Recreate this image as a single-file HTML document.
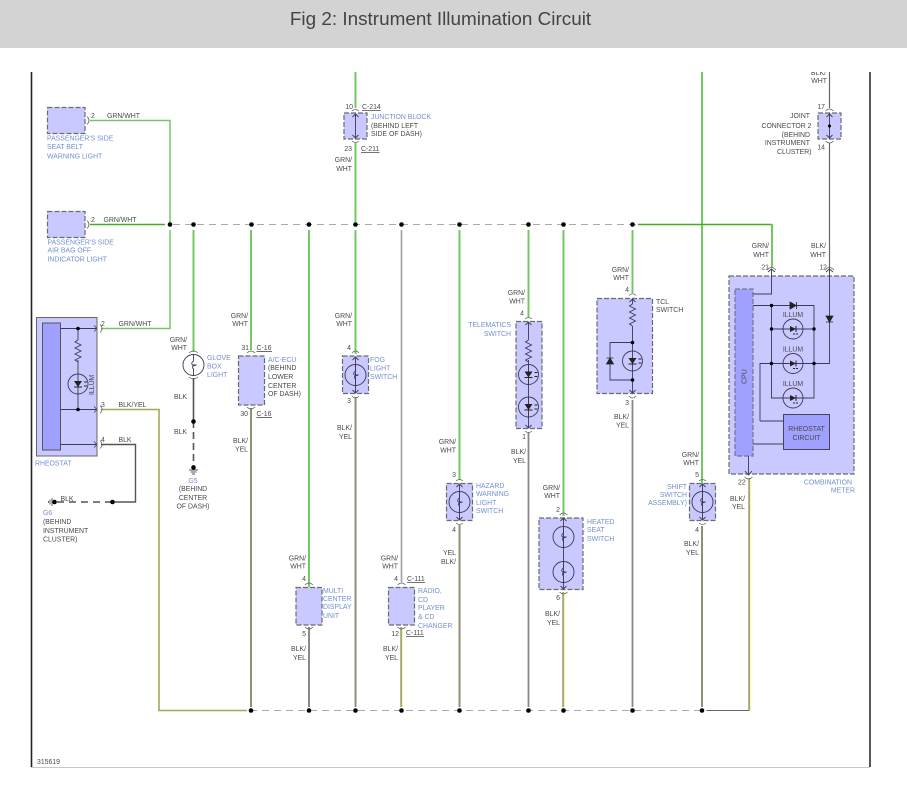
<!DOCTYPE html>
<html><head><meta charset="utf-8"><style>
html,body{margin:0;padding:0;background:#fff}
svg{display:block}
text{font-family:"Liberation Sans",sans-serif;font-size:6.9px;fill:#4a4a4a}
.b{fill:#7390cc}
.n{fill:#4a4a4a}
.g{stroke:#74c864;stroke-width:2;fill:none}
.gd{stroke:#3cb01e;stroke-width:1.4;fill:none}
.k{stroke:#555;stroke-width:1.3;fill:none}
.o{stroke:#8f9070;stroke-width:2;fill:none}
.d{stroke:#555;stroke-width:1.1;fill:none}
.i{stroke:#3a3a55;stroke-width:.9;fill:none}
.box{fill:#c9c9ff;stroke:#6a6a72;stroke-width:1.2;stroke-dasharray:5 2}
.dash{stroke:#aaa;stroke-width:1.1;stroke-dasharray:7 5;fill:none}
.u{stroke:#444;stroke-width:.8}
</style></head><body>
<svg width="907" height="797" viewBox="0 0 907 797" xmlns="http://www.w3.org/2000/svg">
<defs>
<g id="led"><circle r="10" class="i"/><path d="M0-10V10" class="i"/><path d="M-4-3H4L0 3Z" fill="#222"/><path d="M-4 3H4M6-2h3M6 2h3" stroke="#222" stroke-width="1"/></g>
<g id="led2"><circle r="10" class="i"/><path d="M-3-3L3 0-3 3Z" fill="#222"/><path d="M3-3V3M0 5h2M3 5h2" stroke="#222" stroke-width="1"/></g>
<g id="bulb"><circle r="10.500" class="i"/><path d="M0-10.500V-4Q-3-2-1 0H3Q-3 1 0 4V10.500" class="i"/></g>
<g id="res"><path d="M0 0l-3 2 6 3-6 3 6 3-6 3 6 3-6 3 3 2" class="i"/></g>
<g id="rt"><path d="M1-4Q5 0 1 4" stroke="#666" stroke-width=".8" fill="none"/><path d="M-5-3L-2 0-5 3" stroke="#444" stroke-width=".8" fill="none"/></g>
<path id="au" d="M-3 3L0 0 3 3" class="i"/>
<path id="ad" d="M-3-3L0 0 3-3" class="i"/>
</defs>
<rect width="907" height="797" fill="#fff"/>
<rect width="907" height="48" fill="#d3d3d3"/>
<text x="440.500" y="25" text-anchor="middle" style="font-size:18.900px;fill:#444">Fig 2: Instrument Illumination Circuit</text>

<!-- frame -->
<path d="M31.500 72V767" stroke="#222" stroke-width="1.600"/>
<path d="M870 72V767" stroke="#444" stroke-width="1.800"/>
<path d="M31 767.500H870" stroke="#c8c8c8" stroke-width="1"/>
<text x="37" y="764">315619</text>

<!-- buses -->
<path d="M173 224.500H772" class="dash"/>
<path d="M250 710.500H750" class="dash"/>

<!-- wires green -->
<path d="M90 120.500H170V224" class="g" style="stroke-width:1.500"/>
<path d="M90 224.500H165" class="gd"/>
<path d="M170 230V328.500H101" class="g" style="stroke-width:1.500"/>
<path d="M193.500 230V352" class="g"/>
<path d="M251 230V350" class="g"/>
<path d="M309 230V587" class="g"/>
<path d="M355.500 72V108M355.500 143V222M355.500 230V354" class="g"/>
<path d="M459.500 230V480" class="g"/>
<path d="M528.500 230V317" class="g"/>
<path d="M563.500 230V516" class="g"/>
<path d="M632.500 230V293" class="g"/>
<path d="M702 72V484" class="g"/>
<path d="M638 224.500H772" class="gd"/>
<path d="M772 224V268" class="g"/>

<!-- wires lower -->
<path d="M101 409.500H159V710.500H247" stroke="#a6a65a" stroke-width="1.600" fill="none"/>
<path d="M251 408V707" class="o"/>
<path d="M309 627V707" class="o" style="stroke:#8a8a80"/>
<path d="M355.500 397V707" class="o"/>
<path d="M401.500 230V582" stroke="#a0a0a0" stroke-width="1.600"/>
<path d="M401 627V707" stroke="#666" stroke-width="1"/><path d="M402 627V707" stroke="#eded50" stroke-width="1"/>
<path d="M459.500 525V707" class="o"/>
<path d="M528.500 432V707" stroke="#888" stroke-width="1.800"/>
<path d="M563 592V707" stroke="#666" stroke-width="1"/><path d="M564 592V707" stroke="#eded50" stroke-width="1"/>
<path d="M632.500 400V707" stroke="#888" stroke-width="1.800"/>
<path d="M702 526V707" class="o"/>
<path d="M749 478V710.500H707" stroke="#666" stroke-width="1" fill="none"/><path d="M750 478V710" stroke="#eded50" stroke-width="1"/>
<path d="M829.500 72V108M829.500 143V268" stroke="#666" stroke-width="1.200"/>

<!-- dots -->
<g fill="#000">
<circle cx="170" cy="224.500" r="2.300"/><circle cx="193.500" cy="224.500" r="2.300"/><circle cx="251.500" cy="224.500" r="2.300"/><circle cx="309" cy="224.500" r="2.300"/><circle cx="355.500" cy="224.500" r="2.300"/><circle cx="401.500" cy="224.500" r="2.300"/><circle cx="459.500" cy="224.500" r="2.300"/><circle cx="528.500" cy="224.500" r="2.300"/><circle cx="563.500" cy="224.500" r="2.300"/><circle cx="632.500" cy="224.500" r="2.300"/>
<circle cx="251" cy="710.500" r="2.300"/><circle cx="309" cy="710.500" r="2.300"/><circle cx="355.500" cy="710.500" r="2.300"/><circle cx="401.500" cy="710.500" r="2.300"/><circle cx="459.500" cy="710.500" r="2.300"/><circle cx="528.500" cy="710.500" r="2.300"/><circle cx="563.500" cy="710.500" r="2.300"/><circle cx="632.500" cy="710.500" r="2.300"/><circle cx="702" cy="710.500" r="2.300"/>
</g>

<!-- passenger boxes -->
<rect x="47.500" y="107.500" width="37.500" height="26" class="box"/>
<path d="M87 116.500Q91 120.500 87 124.500" stroke="#666" stroke-width=".8" fill="none"/>
<text x="91" y="118">2</text><text x="107" y="118">GRN/WHT</text>
<text x="47" y="140.500" class="b">PASSENGER'S SIDE</text><text x="47" y="149" class="b">SEAT BELT</text><text x="47" y="158.500" class="b">WARNING LIGHT</text>
<rect x="47.500" y="211.500" width="37.500" height="26" class="box"/>
<path d="M87 220.500Q91 224.500 87 228.500" stroke="#666" stroke-width=".8" fill="none"/>
<text x="91" y="222">2</text><text x="103.500" y="222">GRN/WHT</text>
<text x="47.500" y="244.500" class="b">PASSENGER'S SIDE</text><text x="47.500" y="252.500" class="b">AIR BAG OFF</text><text x="47.500" y="261.500" class="b">INDICATOR LIGHT</text>

<!-- rheostat -->
<rect x="36.500" y="317.500" width="60.500" height="138.500" fill="#c9c9ff" stroke="#666" stroke-width="1"/>
<rect x="42.500" y="323" width="18" height="127" fill="#a0a0ff" stroke="#555" stroke-width="1"/>
<path d="M61 328.500H96M61 409.500H96M61 444.500H96M78 328.500V340M78 360V374M78 394V409" class="i"/>
<use href="#res" x="78" y="340"/><use href="#led" x="78" y="384"/>
<circle cx="78" cy="328.500" r="1.800" fill="#000"/><circle cx="78" cy="409.500" r="1.800" fill="#000"/>
<text transform="translate(94,395) rotate(-90)" class="n">ILLUM</text>
<use href="#rt" x="99" y="328.500"/><use href="#rt" x="99" y="409.500"/><use href="#rt" x="99" y="444.500"/>
<text x="101" y="326">2</text><text x="118.500" y="326">GRN/WHT</text>
<text x="101" y="407">3</text><text x="118.500" y="407">BLK/YEL</text>
<text x="101" y="442">4</text><text x="118.500" y="442">BLK</text>
<text x="35" y="465.500" class="b">RHEOSTAT</text>
<path d="M101 444.500H135.500V502H112" stroke="#555" stroke-width="1.400" fill="none"/>
<path d="M112 502H55" stroke="#555" stroke-width="1.400" stroke-dasharray="7 5"/>
<circle cx="112.500" cy="502" r="2.300" fill="#000"/><circle cx="54.500" cy="502" r="2.300" fill="#000"/>
<path d="M52 498V506M50 499.500V504.500M48.500 501V503" stroke="#555" stroke-width=".9"/>
<text x="60.500" y="501">BLK</text>
<text x="43" y="515" class="b">G6</text><text x="43" y="524" class="n">(BEHIND</text><text x="43" y="533" class="n">INSTRUMENT</text><text x="43" y="541.500" class="n">CLUSTER)</text>

<!-- glove box -->
<text x="187" y="342" text-anchor="end">GRN/</text><text x="187" y="350" text-anchor="end">WHT</text>
<use href="#bulb" x="193.500" y="365"/>
<path d="M189 353Q193.500 349 198 353M189 377Q193.500 381 198 377" stroke="#666" stroke-width=".8" fill="none"/>
<text x="207" y="360" class="b">GLOVE</text><text x="207" y="368.500" class="b">BOX</text><text x="207" y="377" class="b">LIGHT</text>
<path d="M193.500 378V421" stroke="#555" stroke-width="1.600"/>
<path d="M193.500 421V467" stroke="#555" stroke-width="1.600" stroke-dasharray="7 4"/>
<circle cx="193.500" cy="421.500" r="2.300" fill="#000"/><circle cx="193.500" cy="467.500" r="2.300" fill="#000"/>
<path d="M189 470H198M190.500 472H196.500M192 474H195" stroke="#555" stroke-width=".9"/>
<text x="187" y="399" text-anchor="end">BLK</text><text x="187" y="434" text-anchor="end">BLK</text>
<text x="193" y="483" text-anchor="middle" class="b">G5</text><text x="193" y="491" text-anchor="middle" class="n">(BEHIND</text><text x="193" y="500" text-anchor="middle" class="n">CENTER</text><text x="193" y="508.500" text-anchor="middle" class="n">OF DASH)</text>

<!-- A/C ECU -->
<text x="248" y="318" text-anchor="end">GRN/</text><text x="248" y="326" text-anchor="end">WHT</text>
<rect x="238.500" y="356" width="26" height="49" class="box"/>
<path d="M247 353Q251 349 255 353M247 407Q251 411 255 407" stroke="#666" stroke-width=".8" fill="none"/>
<text x="249" y="350" text-anchor="end">31</text><text x="256.500" y="350">C-16</text><path d="M256.500 351.500H272" class="u"/>
<text x="248" y="416" text-anchor="end">30</text><text x="256.500" y="416">C-16</text><path d="M256.500 417.500H272" class="u"/>
<text x="268" y="362" class="b">A/C-ECU</text><text x="268" y="370" class="n">(BEHIND</text><text x="268" y="379" class="n">LOWER</text><text x="268" y="388" class="n">CENTER</text><text x="268" y="396" class="n">OF DASH)</text>
<text x="248" y="443" text-anchor="end">BLK/</text><text x="248" y="451.500" text-anchor="end">YEL</text>

<!-- junction -->
<rect x="344" y="113" width="23" height="26" class="box"/>
<path d="M355.500 114V138" class="i"/>
<use href="#au" x="355.500" y="114"/><use href="#ad" x="355.500" y="138"/>
<path d="M352 111Q355.500 108 359 111M352 141Q355.500 144 359 141" stroke="#666" stroke-width=".8" fill="none"/>
<text x="353" y="109" text-anchor="end">10</text><text x="362" y="109">C-214</text><path d="M362 110.500H380.500" class="u"/>
<text x="352" y="151" text-anchor="end">23</text><text x="361" y="151">C-211</text><path d="M361 152.500H379.500" class="u"/>
<text x="371" y="119" class="b">JUNCTION BLOCK</text><text x="371" y="128" class="n">(BEHIND LEFT</text><text x="371" y="136" class="n">SIDE OF DASH)</text>
<text x="352" y="162" text-anchor="end">GRN/</text><text x="352" y="171" text-anchor="end">WHT</text>

<!-- fog -->
<text x="352" y="318" text-anchor="end">GRN/</text><text x="352" y="326" text-anchor="end">WHT</text>
<text x="351" y="350" text-anchor="end">4</text>
<rect x="342.500" y="356" width="26" height="37.500" class="box"/>
<path d="M352 353Q355.500 349 359 353M352 396Q355.500 400 359 396" stroke="#666" stroke-width=".8" fill="none"/>
<use href="#bulb" x="355.500" y="375"/>
<path d="M355.500 357V393" class="i"/><use href="#au" x="355.500" y="357"/><use href="#ad" x="355.500" y="393"/>
<text x="351" y="403" text-anchor="end">3</text>
<text x="370" y="362" class="b">FOG</text><text x="370" y="370.500" class="b">LIGHT</text><text x="370" y="379" class="b">SWITCH</text>
<text x="352" y="430" text-anchor="end">BLK/</text><text x="352" y="439" text-anchor="end">YEL</text>

<!-- multi center -->
<text x="306" y="560.500" text-anchor="end">GRN/</text><text x="306" y="568.500" text-anchor="end">WHT</text>
<text x="306" y="581" text-anchor="end">4</text>
<rect x="296" y="587.500" width="26" height="37.500" class="box"/>
<path d="M305 585Q309 581 313 585M305 627Q309 631 313 627" stroke="#666" stroke-width=".8" fill="none"/>
<text x="306" y="636" text-anchor="end">5</text>
<text x="323" y="593" class="b">MULTI</text><text x="323" y="601" class="b">CENTER</text><text x="323" y="609" class="b">DISPLAY</text><text x="323" y="618" class="b">UNIT</text>
<text x="306" y="651" text-anchor="end">BLK/</text><text x="306" y="660" text-anchor="end">YEL</text>

<!-- radio -->
<text x="398" y="560.500" text-anchor="end">GRN/</text><text x="398" y="568.500" text-anchor="end">WHT</text>
<text x="398" y="581" text-anchor="end">4</text><text x="407" y="581">C-111</text><path d="M407 582.500H425" class="u"/>
<rect x="388.500" y="587.500" width="26" height="37.500" class="box"/>
<path d="M397.500 585Q401.500 581 405.500 585M397.500 627Q401.500 631 405.500 627" stroke="#666" stroke-width=".8" fill="none"/>
<text x="399" y="636" text-anchor="end">12</text><text x="406" y="635">C-111</text><path d="M406 636.500H424" class="u"/>
<text x="418" y="593" class="b">RADIO,</text><text x="418" y="602" class="b">CD</text><text x="418" y="610" class="b">PLAYER</text><text x="418" y="619" class="b">&amp; CD</text><text x="418" y="628" class="b">CHANGER</text>
<text x="398" y="651" text-anchor="end">BLK/</text><text x="398" y="660" text-anchor="end">YEL</text>

<!-- hazard -->
<text x="456" y="444" text-anchor="end">GRN/</text><text x="456" y="452.500" text-anchor="end">WHT</text>
<text x="456" y="477" text-anchor="end">3</text>
<rect x="446.500" y="483.500" width="26" height="37" class="box"/>
<use href="#bulb" x="459.500" y="502"/>
<path d="M459.500 484V520" class="i"/><use href="#au" x="459.500" y="484"/><use href="#ad" x="459.500" y="520"/>
<path d="M456 481Q459.500 478 463 481M456 523Q459.500 526 463 523" stroke="#666" stroke-width=".8" fill="none"/>
<text x="456" y="532" text-anchor="end">4</text>
<text x="476" y="488" class="b">HAZARD</text><text x="476" y="496" class="b">WARNING</text><text x="476" y="505" class="b">LIGHT</text><text x="476" y="513" class="b">SWITCH</text>
<text x="456" y="555" text-anchor="end">YEL</text><text x="456" y="564" text-anchor="end">BLK/</text>

<!-- telematics -->
<text x="525" y="295" text-anchor="end">GRN/</text><text x="525" y="303.500" text-anchor="end">WHT</text>
<text x="524" y="315.500" text-anchor="end">4</text>
<rect x="516" y="321.500" width="26" height="107" class="box"/>
<path d="M525 319Q528.500 316 532 319M525 431Q528.500 434 532 431" stroke="#666" stroke-width=".8" fill="none"/>
<path d="M528.500 322V340M528.500 360V428" class="i"/>
<use href="#au" x="528.500" y="322"/><use href="#ad" x="528.500" y="428"/>
<use href="#res" x="528.500" y="340"/><use href="#led" x="528.500" y="374.500"/><use href="#led" x="528.500" y="407"/>
<text x="511" y="327" text-anchor="end" class="b">TELEMATICS</text><text x="511" y="336" text-anchor="end" class="b">SWITCH</text>
<text x="526" y="439" text-anchor="end">1</text>
<text x="526" y="454" text-anchor="end">BLK/</text><text x="526" y="463" text-anchor="end">YEL</text>

<!-- heated -->
<text x="560" y="490" text-anchor="end">GRN/</text><text x="560" y="498" text-anchor="end">WHT</text>
<text x="560" y="512" text-anchor="end">2</text>
<rect x="539" y="518" width="44" height="71.500" class="box"/>
<path d="M559.500 515Q563.500 511 567.500 515M559.500 592Q563.500 596 567.500 592" stroke="#666" stroke-width=".8" fill="none"/>
<use href="#bulb" x="563.500" y="537"/><use href="#bulb" x="563.500" y="572"/>
<path d="M563.500 518V589" class="i"/><use href="#au" x="563.500" y="518"/><use href="#ad" x="563.500" y="589"/>
<text x="560" y="600" text-anchor="end">6</text>
<text x="587" y="524" class="b">HEATED</text><text x="587" y="532" class="b">SEAT</text><text x="587" y="541" class="b">SWITCH</text>
<text x="560" y="616" text-anchor="end">BLK/</text><text x="560" y="625" text-anchor="end">YEL</text>

<!-- TCL -->
<text x="629" y="272" text-anchor="end">GRN/</text><text x="629" y="280" text-anchor="end">WHT</text>
<text x="629" y="292" text-anchor="end">4</text>
<rect x="597" y="298.500" width="55.500" height="95" class="box"/>
<path d="M629 295.500Q632.500 292 636 295.500M629 396Q632.500 400 636 396" stroke="#666" stroke-width=".8" fill="none"/>
<path d="M632.500 299V304M632.500 326V351M632.500 371V393M632.500 342.500H610V380H632.500" class="i"/>
<use href="#au" x="632.500" y="299"/><use href="#ad" x="632.500" y="393"/>
<use href="#res" x="632.500" y="304"/><use href="#led" x="632.500" y="361"/>
<path d="M606.500 364H613.500L610 358ZM606.500 358H613.500" fill="#222" stroke="#222" stroke-width=".8"/>
<circle cx="632.500" cy="342.500" r="1.800" fill="#000"/><circle cx="632.500" cy="380" r="1.800" fill="#000"/>
<text x="656" y="304" class="n">TCL</text><text x="656" y="312" class="n">SWITCH</text>
<text x="629" y="405" text-anchor="end">3</text>
<text x="629" y="419" text-anchor="end">BLK/</text><text x="629" y="427.500" text-anchor="end">YEL</text>

<!-- shift -->
<text x="699" y="457" text-anchor="end">GRN/</text><text x="699" y="465" text-anchor="end">WHT</text>
<text x="699" y="477" text-anchor="end">5</text>
<rect x="689.500" y="483.500" width="26" height="37" class="box"/>
<use href="#bulb" x="702.500" y="502"/>
<path d="M702.500 484V520" class="i"/><use href="#au" x="702.500" y="484"/><use href="#ad" x="702.500" y="520"/>
<path d="M699 481Q702.500 478 706 481M699 523Q702.500 526 706 523" stroke="#666" stroke-width=".8" fill="none"/>
<text x="687" y="489" text-anchor="end" class="b">SHIFT</text><text x="687" y="497" text-anchor="end" class="b">SWITCH</text><text x="687" y="505" text-anchor="end" class="b">ASSEMBLY)</text>
<text x="699" y="532" text-anchor="end">4</text>
<text x="699" y="546" text-anchor="end">BLK/</text><text x="699" y="555" text-anchor="end">YEL</text>

<!-- joint -->
<text x="826" y="75" text-anchor="end">BLK/</text>
<text x="827" y="83" text-anchor="end">WHT</text>
<rect x="818" y="113" width="23" height="26" class="box"/>
<path d="M829.500 113V139" class="i"/><circle cx="829.500" cy="126" r="1.500" fill="#000"/>
<use href="#au" x="829.500" y="114"/><use href="#ad" x="829.500" y="138"/>
<path d="M825.500 111Q829.500 107 833.500 111M825.500 141Q829.500 145 833.500 141" stroke="#666" stroke-width=".8" fill="none"/>
<text x="825" y="109" text-anchor="end">17</text><text x="825" y="149.500" text-anchor="end">14</text>
<text x="810" y="118" text-anchor="end" class="n">JOINT</text><text x="811.500" y="128" text-anchor="end" class="n">CONNECTOR 2</text><text x="810" y="137" text-anchor="end" class="n">(BEHIND</text><text x="810" y="145" text-anchor="end" class="n">INSTRUMENT</text><text x="811.500" y="154" text-anchor="end" class="n">CLUSTER)</text>
<text x="769" y="248" text-anchor="end">GRN/</text><text x="769" y="257" text-anchor="end">WHT</text>
<text x="826" y="248" text-anchor="end">BLK/</text><text x="826" y="257" text-anchor="end">WHT</text>
<text x="769" y="269.500" text-anchor="end">21</text><text x="827" y="269.500" text-anchor="end">12</text>

<!-- combination meter -->
<rect x="729" y="276" width="125" height="198" class="box"/>
<rect x="735" y="289" width="18" height="167" fill="#a0a0ff" stroke="#75758a" stroke-width="1.200" stroke-dasharray="5 2"/>
<text transform="translate(746.500,384) rotate(-90)" class="n" style="font-size:7px">CPU</text>
<path d="M753 294H771.500V269M771.500 305.500V398H814V305.500H753M772 329H814M760 421V363.500H829.500V268M760 421H783M753 444H783M748.500 456V475" class="i"/>
<path d="M768 272L771.500 269 775 272M826 272L829.500 269 833 272M745 471L748.500 475 752 471" class="i"/>
<path d="M767 270Q771.500 265 776 270M825 270Q829.500 265 834 270M744.500 477Q748.500 481 752.500 477" stroke="#666" stroke-width=".8" fill="none"/>
<path d="M790 302L796 305.500 790 309ZM796.500 302V309" fill="#222" stroke="#222" stroke-width=".8"/>
<path d="M826 316H833L829.500 322ZM826 322H833" fill="#222" stroke="#222" stroke-width=".8"/>
<use href="#led2" x="793" y="329"/><use href="#led2" x="793" y="363.500"/><use href="#led2" x="793" y="398"/>
<g fill="#000"><circle cx="771.500" cy="305.500" r="1.700"/><circle cx="771.500" cy="329" r="1.700"/><circle cx="814" cy="329" r="1.700"/><circle cx="771.500" cy="363.500" r="1.700"/><circle cx="814" cy="363.500" r="1.700"/></g>
<text x="793" y="317" text-anchor="middle" class="n">ILLUM</text><text x="793" y="351.500" text-anchor="middle" class="n">ILLUM</text><text x="793" y="386" text-anchor="middle" class="n">ILLUM</text>
<rect x="783.500" y="414.500" width="46" height="35" fill="#a0a0ff" stroke="#445" stroke-width="1"/>
<text x="806.500" y="431" text-anchor="middle" class="n">RHEOSTAT</text><text x="806.500" y="440" text-anchor="middle" class="n">CIRCUIT</text>
<text x="738" y="484.500">22</text>
<text x="852" y="484.500" text-anchor="end" class="b">COMBINATION</text><text x="855" y="492.500" text-anchor="end" class="b">METER</text>
<text x="745" y="501" text-anchor="end">BLK/</text><text x="745" y="509" text-anchor="end">YEL</text>

<!-- clip above diagram frame -->
<rect x="0" y="48" width="907" height="24" fill="#fff"/>
</svg>
</body></html>
